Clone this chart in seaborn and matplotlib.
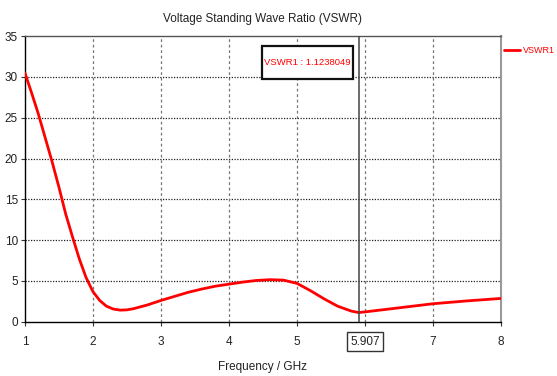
import matplotlib
matplotlib.use("Agg")
import matplotlib.pyplot as plt
from matplotlib.patches import Rectangle
import seaborn as sns
import pandas as pd

# VSWR sweep (frequency in GHz)
freq_ghz = [1.0, 1.1, 1.2, 1.3, 1.4, 1.5, 1.6, 1.7, 1.8, 1.9, 2.0, 2.1, 2.2, 2.3,
            2.4, 2.5, 2.6, 2.8, 3.0, 3.2, 3.4, 3.6, 3.8, 4.0, 4.2, 4.4, 4.6, 4.8,
            5.0, 5.2, 5.4, 5.6, 5.8, 5.907, 6.0, 6.2, 6.5, 7.0, 7.5, 8.0]
vswr1 = [30.5, 28.0, 25.4, 22.5, 19.6, 16.5, 13.2, 10.4, 7.7, 5.4, 3.7, 2.6, 1.9, 1.55,
         1.42, 1.45, 1.6, 2.05, 2.6, 3.1, 3.6, 4.0, 4.35, 4.6, 4.85, 5.05, 5.15, 5.1,
         4.7, 3.8, 2.8, 1.9, 1.3, 1.1238049, 1.2, 1.4, 1.7, 2.2, 2.55, 2.85]

marker_freq = 5.907
marker_value = 1.1238049
x_ticks = [1, 2, 3, 4, 5, 6, 7, 8]
x_tick_labels = ["1", "2", "3", "4", "5", "5.907", "7", "8"]
y_ticks = [0, 5, 10, 15, 20, 25, 30, 35]

df = pd.DataFrame({"Frequency": freq_ghz, "VSWR1": vswr1})

sns.set_style("white")
plt.rcParams["font.family"] = ["Liberation Sans", "DejaVu Sans"]

fig = plt.figure(figsize=(5.57, 3.76), dpi=100)
ax = fig.add_axes([0.0447, 0.1444, 0.8546, 0.7596])

sns.lineplot(data=df, x="Frequency", y="VSWR1", ax=ax, color="#ff0000",
             linewidth=2.0, legend=False, zorder=4)

ax.set_xlim(1, 8)
ax.set_ylim(0, 35)

# grid: dotted black horizontals, dashed grey verticals
for y in y_ticks[1:-1]:
    ax.axhline(y, color="#202020", linestyle=(0, (1, 1.2)), linewidth=0.9, zorder=1)
for x in x_ticks[1:-1]:
    ax.axvline(x, color="#777777", linestyle=(0, (2.2, 2.2)), linewidth=0.9, zorder=1)

# spines
for side in ["left", "bottom"]:
    ax.spines[side].set_color("black")
    ax.spines[side].set_linewidth(1.0)
ax.spines["top"].set_color("#555555")
ax.spines["top"].set_linewidth(1.0)
ax.spines["right"].set_color("#999999")
ax.spines["right"].set_linewidth(1.5)

ax.set_xticks(x_ticks)
ax.set_xticklabels(x_tick_labels)
ax.set_yticks(y_ticks)
ax.tick_params(axis="both", direction="out", length=3, width=0.8, color="#333333",
               labelsize=8.5, labelcolor="#222222", bottom=True, left=True)
ax.tick_params(axis="x", pad=7)
ax.tick_params(axis="y", pad=2)

# boxed marker frequency label
for lbl in ax.get_xticklabels():
    if lbl.get_text() == "5.907":
        lbl.set_bbox(dict(boxstyle="square,pad=0.3", facecolor="white",
                          edgecolor="#333333", linewidth=1.0))

ax.axvline(marker_freq, color="#444444", linewidth=1.1, zorder=5)

# marker readout box
box_x0, box_x1 = 4.49, 5.83
box_y0, box_y1 = 29.7, 33.8
ax.add_patch(Rectangle((box_x0, box_y0), box_x1 - box_x0, box_y1 - box_y0,
                       facecolor="white", edgecolor="#111111", linewidth=1.6,
                       zorder=6, clip_on=False))
ax.text((box_x0 + box_x1) / 2, (box_y0 + box_y1) / 2, f"VSWR1 : {marker_value:.7f}",
        color="#ff0000", fontsize=6.8, ha="center", va="center", zorder=7)

ax.set_title("Voltage Standing Wave Ratio (VSWR)", fontsize=8.5, color="#222222", pad=10)
ax.set_xlabel("Frequency / GHz", fontsize=8.5, color="#222222", labelpad=10)
ax.set_ylabel("")

# legend entry outside the axes
fig.lines.append(plt.Line2D([0.905, 0.934], [0.867, 0.867], transform=fig.transFigure,
                            color="#ff0000", linewidth=2.0))
fig.text(0.939, 0.867, "VSWR1", color="#ff0000", fontsize=6.5, va="center", ha="left")

fig.savefig("out.png", dpi=100)
